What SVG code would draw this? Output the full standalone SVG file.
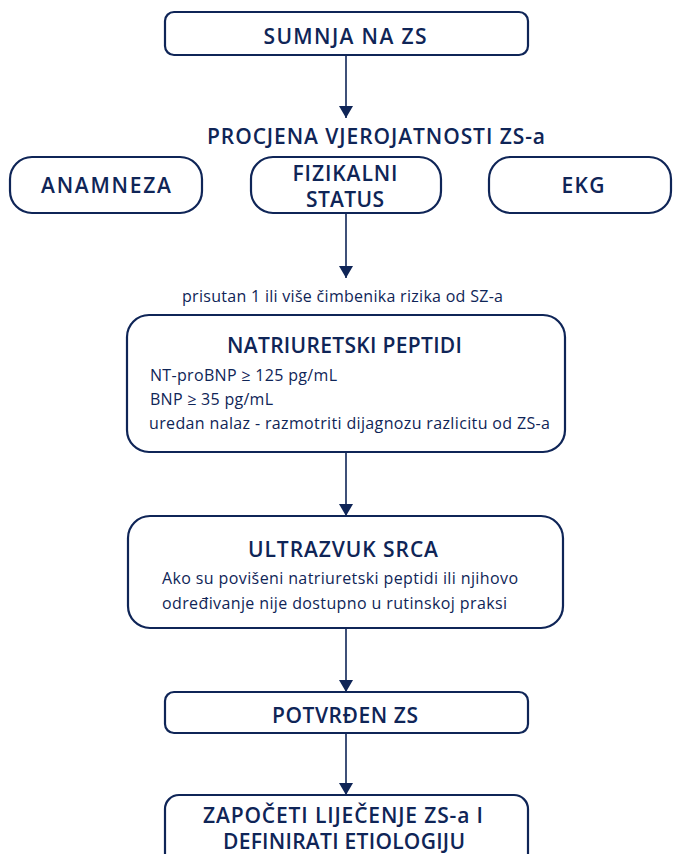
<svg xmlns="http://www.w3.org/2000/svg" width="673" height="854" viewBox="0 0 673 854">
<style>
.box{fill:#fff;stroke:#0f2557;stroke-width:2.2}
.t{font-family:"Open Sans",Lato,"Liberation Sans",sans-serif;fill:#0f2557}
.h{font-size:21px;text-anchor:middle;font-weight:600}
.s{font-size:16px;font-weight:500}
.c{stroke:#0f2557;stroke-width:1.6;fill:none}
</style>
<defs>
<marker id="ah" viewBox="0 0 12 14" refX="12" refY="7" markerWidth="12" markerHeight="14" markerUnits="userSpaceOnUse" orient="auto">
<path d="M0,0 L12,7 L0,14 z" fill="#0f2557"/>
</marker>
</defs>
<rect width="673" height="854" fill="#fff"/>
<g id="connectors">
<line class="c" x1="346" y1="55" x2="346" y2="118" marker-end="url(#ah)"/>
<line class="c" x1="346" y1="213" x2="346" y2="278" marker-end="url(#ah)"/>
<line class="c" x1="346" y1="452" x2="346" y2="516" marker-end="url(#ah)"/>
<line class="c" x1="346" y1="628" x2="346" y2="692" marker-end="url(#ah)"/>
<line class="c" x1="346" y1="733" x2="346" y2="795" marker-end="url(#ah)"/>
</g>
<g id="sumnja">
<rect class="box" x="165" y="12" width="363" height="43" rx="9"/>
<text class="t h" x="345" y="44" textLength="163" lengthAdjust="spacing">SUMNJA NA ZS</text>
</g>
<g id="procjena">
<text class="t h" x="376" y="144" textLength="338" lengthAdjust="spacing">PROCJENA VJEROJATNOSTI ZS-a</text>
</g>
<g id="anamneza">
<rect class="box" x="10" y="157" width="192" height="56" rx="22"/>
<text class="t h" x="106" y="193" textLength="130" lengthAdjust="spacing">ANAMNEZA</text>
</g>
<g id="fizikalni">
<rect class="box" x="251" y="157" width="190" height="56" rx="22"/>
<text class="t h" x="345" y="181" textLength="105" lengthAdjust="spacing">FIZIKALNI</text>
<text class="t h" x="345" y="207" textLength="78" lengthAdjust="spacing">STATUS</text>
</g>
<g id="ekg">
<rect class="box" x="489" y="157" width="182" height="56" rx="22"/>
<text class="t h" x="583" y="193" textLength="43" lengthAdjust="spacing">EKG</text>
</g>
<g id="prisutan">
<text class="t s" x="342.5" y="302" text-anchor="middle" textLength="321" lengthAdjust="spacing">prisutan 1 ili više čimbenika rizika od SZ-a</text>
</g>
<g id="natriuretski">
<rect class="box" x="127" y="315" width="438" height="137" rx="22"/>
<text class="t h" x="344.5" y="353" textLength="235" lengthAdjust="spacing">NATRIURETSKI PEPTIDI</text>
<text class="t s" x="150" y="381" textLength="187" lengthAdjust="spacing">NT-proBNP ≥ 125 pg/mL</text>
<text class="t s" x="150" y="405" textLength="123" lengthAdjust="spacing">BNP ≥ 35 pg/mL</text>
<text class="t s" x="149" y="429" textLength="401" lengthAdjust="spacing">uredan nalaz - razmotriti dijagnozu razlicitu od ZS-a</text>
</g>
<g id="ultrazvuk">
<rect class="box" x="128" y="516" width="435" height="112" rx="22"/>
<text class="t h" x="343" y="557" textLength="190" lengthAdjust="spacing">ULTRAZVUK SRCA</text>
<text class="t s" x="162" y="584" textLength="356" lengthAdjust="spacing">Ako su povišeni natriuretski peptidi ili njihovo</text>
<text class="t s" x="162" y="609" textLength="345" lengthAdjust="spacing">određivanje nije dostupno u rutinskoj praksi</text>
</g>
<g id="potvrden">
<rect class="box" x="165" y="692" width="363" height="41" rx="9"/>
<text class="t h" x="345" y="723" textLength="146" lengthAdjust="spacing">POTVRĐEN ZS</text>
</g>
<g id="zapoceti">
<rect class="box" x="165" y="795" width="363" height="80" rx="14"/>
<text class="t h" x="343" y="823" textLength="280" lengthAdjust="spacing">ZAPOČETI LIJEČENJE ZS-a I</text>
<text class="t h" x="344" y="849" textLength="242" lengthAdjust="spacing">DEFINIRATI ETIOLOGIJU</text>
</g>
</svg>
